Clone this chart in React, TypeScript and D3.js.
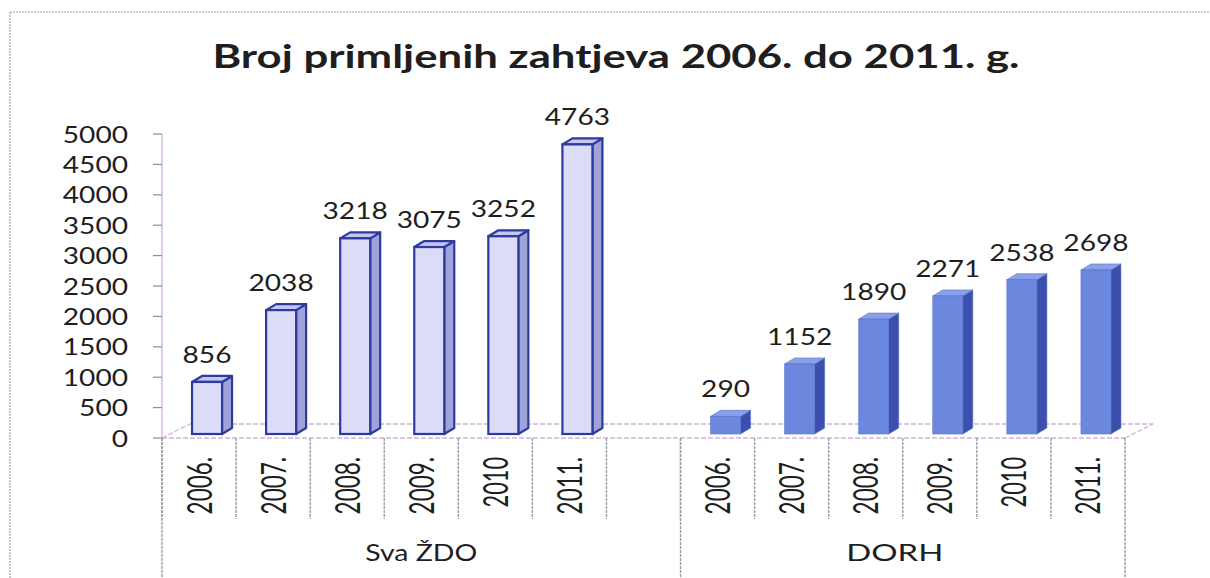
import React from "react";
import * as d3 from "d3";

const title = "Broj primljenih zahtjeva 2006. do 2011. g.";
const groupNames = ["Sva ŽDO", "DORH"];
const years = ["2006.", "2007.", "2008.", "2009.", "2010", "2011."];
const svaZdo = [856, 2038, 3218, 3075, 3252, 4763];
const dorh = [290, 1152, 1890, 2271, 2538, 2698];
const yTicks = [0, 500, 1000, 1500, 2000, 2500, 3000, 3500, 4000, 4500, 5000];

const W = 1210;
const H = 578;

type Slot = { id: string; label: string; group: number; value: number | null };

const slots: Slot[] = [
  ...years.map((y, i) => ({ id: `a-${y}`, label: y, group: 0, value: svaZdo[i] })),
  { id: "a-gap", label: "", group: 0, value: null },
  ...years.map((y, i) => ({ id: `b-${y}`, label: y, group: 1, value: dorh[i] })),
];

const styles = [
  { front: "#dcdcf9", side: "#9fa3da", top: "#c3c6f1", stroke: "#2d3b9e", sw: 2.2 },
  { front: "#6c88de", side: "#3b4fad", top: "#8aa0e8", stroke: "#5570cc", sw: 0.6 },
];

const FONT = "Lato, 'Open Sans', sans-serif";

export default function App() {
  const x = d3
    .scaleBand<string>()
    .domain(slots.map((s) => s.id))
    .range([162, 1125])
    .padding(0);
  const y = d3.scaleLinear().domain([0, 5000]).range([438, 134]);
  const bw = x.bandwidth();

  const depthX = 28;
  const depthY = 14;
  const barShiftX = 8;
  const barShiftY = 4;
  const frontW = 30;
  const sideDX = 10;
  const topDY = 6;

  const floorL = x.range()[0];
  const floorR = x.range()[1];
  const y0 = y(0);

  // group spans
  const groupSpans = groupNames.map((g, gi) => {
    const ss = slots.filter((s) => s.group === gi);
    const a = x(ss[0].id)!;
    const b = x(ss[ss.length - 1].id)! + bw;
    return { name: g, a, b };
  });
  const groupEdges = [groupSpans[0].a, groupSpans[1].a, groupSpans[1].b];

  const lineCol = "#d2b2d8";
  const sepCol = "#9a9aa6";

  return (
    <svg
      width={W}
      height={H}
      style={{ position: "absolute", left: 0, top: 0, background: "#fff" }}
    >
      <rect x={0} y={0} width={W} height={H} fill="#fff" />
      {/* frame */}
      <line x1={10} y1={12} x2={W} y2={12} stroke="#a0a0b0" strokeWidth={1.2} strokeDasharray="2,1" />
      <line x1={10} y1={12} x2={10} y2={H} stroke="#a0a0a8" strokeWidth={1.2} strokeDasharray="2,1" />

      {/* title */}
      <text
        x={616}
        y={68}
        textAnchor="middle"
        fontFamily={FONT}
        fontWeight={700}
        fontSize={32}
        fill="#1e1e1e"
        textLength={807}
        lengthAdjust="spacingAndGlyphs"
      >
        {title}
      </text>

      {/* y axis */}
      <line x1={floorL} y1={y(5000)} x2={floorL} y2={y0} stroke={lineCol} strokeWidth={1.3} />
      {yTicks.map((t) => (
        <g key={t}>
          <line x1={floorL - 9} x2={floorL} y1={y(t)} y2={y(t)} stroke="#8c8ca8" strokeWidth={1.2} />
          <text
            x={128}
            y={y(t) + 8.5}
            textAnchor="end"
            fontFamily={FONT}
            fontSize={24}
            fill="#1e1e1e"
            textLength={String(t).length * 16.3}
            lengthAdjust="spacingAndGlyphs"
          >
            {t}
          </text>
        </g>
      ))}

      {/* floor */}
      <g stroke={lineCol} strokeWidth={1.3} strokeDasharray="5,2" fill="none">
        <line x1={floorL} y1={y0} x2={floorR} y2={y0} />
        <line x1={floorL + depthX} y1={y0 - depthY} x2={floorR + depthX} y2={y0 - depthY} />
        <line x1={floorL} y1={y0} x2={floorL + depthX} y2={y0 - depthY} />
        <line x1={floorR} y1={y0} x2={floorR + depthX} y2={y0 - depthY} />
      </g>

      {/* bars */}
      {slots
        .filter((s) => s.value !== null)
        .map((s) => {
          const st = styles[s.group];
          const cx = x(s.id)! + bw / 2 + barShiftX;
          const xl = cx - frontW / 2;
          const xr = cx + frontW / 2;
          const yb = y0 - barShiftY;
          const yt = y(s.value as number) - barShiftY;
          const side = `M${xr},${yt} L${xr + sideDX},${yt - topDY} L${xr + sideDX},${yb - topDY} L${xr},${yb} Z`;
          const top = `M${xl},${yt} L${xl + sideDX},${yt - topDY} L${xr + sideDX},${yt - topDY} L${xr},${yt} Z`;
          return (
            <g key={s.id}>
              <path d={side} fill={st.side} stroke={st.stroke} strokeWidth={st.sw} strokeLinejoin="round" />
              <path d={top} fill={st.top} stroke={st.stroke} strokeWidth={st.sw} strokeLinejoin="round" />
              <rect
                x={xl}
                y={yt}
                width={frontW}
                height={yb - yt}
                fill={st.front}
                stroke={st.stroke}
                strokeWidth={st.sw}
              />
              <text
                x={cx}
                y={yt - topDY - 13}
                textAnchor="middle"
                fontFamily={FONT}
                fontSize={24}
                fill="#1e1e1e"
                textLength={String(s.value).length * 16.3}
                lengthAdjust="spacingAndGlyphs"
              >
                {s.value}
              </text>
            </g>
          );
        })}

      {/* category separators */}
      {slots.map((s) => (
        <line
          key={`sep-${s.id}`}
          x1={x(s.id)!}
          x2={x(s.id)!}
          y1={y0}
          y2={519}
          stroke={sepCol}
          strokeWidth={1.4}
          strokeDasharray="3,1"
        />
      ))}
      {groupEdges.map((gx, i) => (
        <line
          key={`g-${i}`}
          x1={gx}
          x2={gx}
          y1={y0}
          y2={H}
          stroke={sepCol}
          strokeWidth={1.4}
          strokeDasharray="3,1"
        />
      ))}

      {/* category labels */}
      {slots
        .filter((s) => s.label)
        .map((s) => {
          const cx = x(s.id)! + bw / 2;
          const digits = s.label.replace(/\./g, "").length;
          const dots = s.label.length - digits;
          return (
            <text
              key={`l-${s.id}`}
              transform={`translate(${cx},457) rotate(-90)`}
              y={12.5}
              textAnchor="end"
              fontFamily={FONT}
              fontSize={35}
              fill="#1e1e1e"
              textLength={digits * 12.6 + dots * 7}
              lengthAdjust="spacingAndGlyphs"
            >
              {s.label}
            </text>
          );
        })}

      {/* group labels */}
      {groupSpans.map((g, i) => (
        <text
          key={g.name}
          x={(g.a + g.b) / 2 - (i === 1 ? 8 : 0)}
          y={561}
          textAnchor="middle"
          fontFamily={FONT}
          fontSize={22.5}
          fill="#1e1e1e"
          textLength={i === 0 ? 112 : 97}
          lengthAdjust="spacingAndGlyphs"
        >
          {g.name}
        </text>
      ))}
    </svg>
  );
}
